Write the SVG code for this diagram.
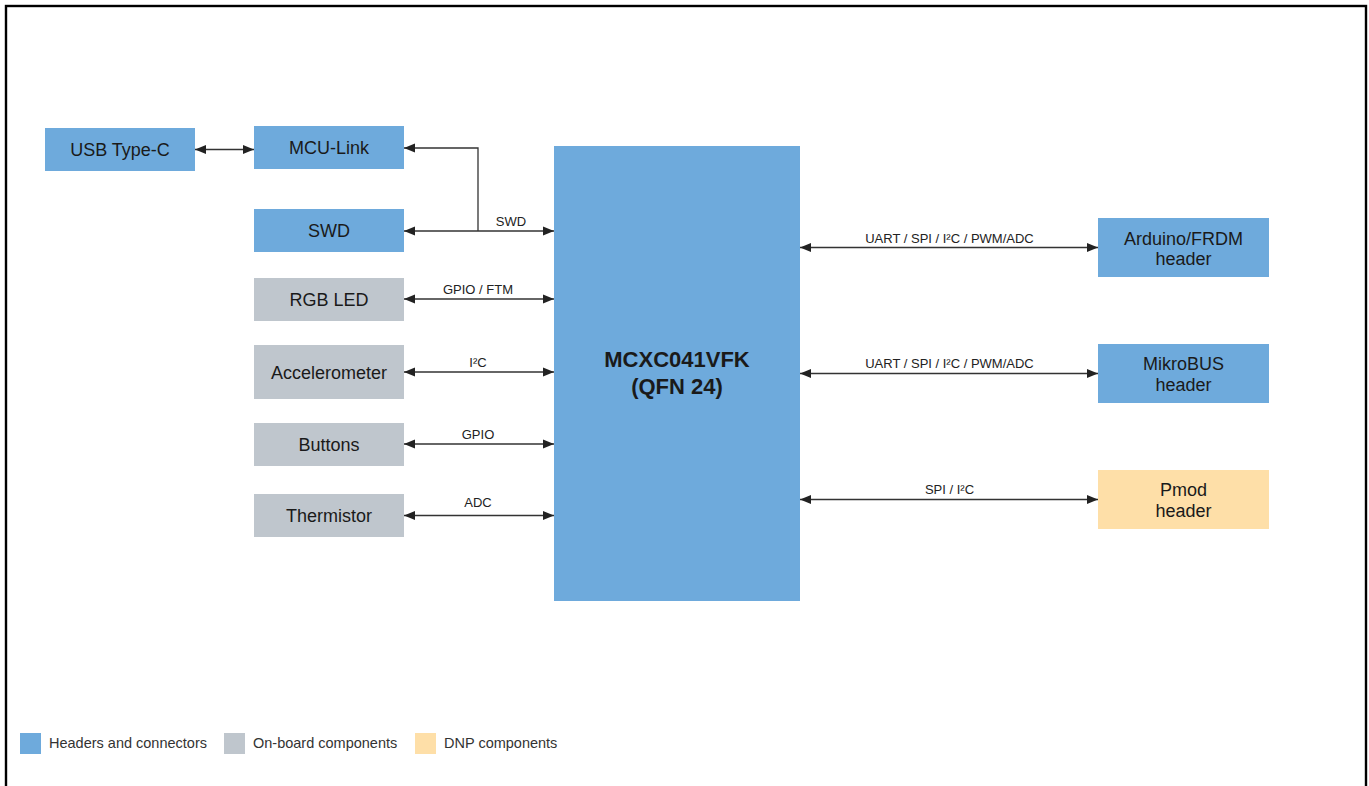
<svg xmlns="http://www.w3.org/2000/svg" width="1369" height="786" viewBox="0 0 1369 786">
<style>
  .blue { fill: #6EAADC; }
  .gray { fill: #BFC6CD; }
  .yel { fill: #FEDFA8; }
  .nt { font-family: "Liberation Sans", Arial, sans-serif; font-size: 18px; fill: #1a1a1a; text-anchor: middle; }
  .mt { font-family: "Liberation Sans", Arial, sans-serif; font-size: 22px; font-weight: bold; fill: #1a1a1a; text-anchor: middle; }
  .lt { font-family: "Liberation Sans", Arial, sans-serif; font-size: 13px; fill: #222; text-anchor: middle; }
  .gt { font-family: "Liberation Sans", Arial, sans-serif; font-size: 14.5px; fill: #333; }
  .ln { fill: none; stroke: #333; stroke-width: 1.3; }
</style>
<defs>
  <marker id="ah" markerUnits="userSpaceOnUse" markerWidth="12" markerHeight="10" refX="11" refY="5" orient="auto-start-reverse">
    <path d="M0,0.6 L11,5 L0,9.4 Z" fill="#222"/>
  </marker>
</defs>
<rect x="6" y="6" width="1360" height="790" fill="#fff" stroke="#000" stroke-width="2.4"/>

<g id="connectors">
  <line class="ln" x1="195" y1="149.5" x2="254" y2="149.5" marker-start="url(#ah)" marker-end="url(#ah)"/>
  <path class="ln" d="M478,231 V148 H404" marker-end="url(#ah)"/>
  <line class="ln" x1="404" y1="231" x2="554" y2="231" marker-start="url(#ah)" marker-end="url(#ah)"/>
  <text class="lt" x="511" y="226">SWD</text>
  <line class="ln" x1="404" y1="299" x2="554" y2="299" marker-start="url(#ah)" marker-end="url(#ah)"/>
  <text class="lt" x="478" y="294">GPIO / FTM</text>
  <line class="ln" x1="404" y1="372" x2="554" y2="372" marker-start="url(#ah)" marker-end="url(#ah)"/>
  <text class="lt" x="478" y="367">I²C</text>
  <line class="ln" x1="404" y1="444" x2="554" y2="444" marker-start="url(#ah)" marker-end="url(#ah)"/>
  <text class="lt" x="478" y="439">GPIO</text>
  <line class="ln" x1="404" y1="515.5" x2="554" y2="515.5" marker-start="url(#ah)" marker-end="url(#ah)"/>
  <text class="lt" x="478" y="507">ADC</text>
  <line class="ln" x1="800" y1="247.5" x2="1098" y2="247.5" marker-start="url(#ah)" marker-end="url(#ah)"/>
  <text class="lt" x="949.5" y="242.5">UART / SPI / I²C / PWM/ADC</text>
  <line class="ln" x1="800" y1="373.5" x2="1098" y2="373.5" marker-start="url(#ah)" marker-end="url(#ah)"/>
  <text class="lt" x="949.5" y="368">UART / SPI / I²C / PWM/ADC</text>
  <line class="ln" x1="800" y1="499.5" x2="1098" y2="499.5" marker-start="url(#ah)" marker-end="url(#ah)"/>
  <text class="lt" x="949.5" y="494">SPI / I²C</text>
</g>

<g id="usb"><rect class="blue" x="45" y="128" width="150" height="43"/><text class="nt" x="120" y="156">USB Type-C</text></g>
<g id="mculink"><rect class="blue" x="254" y="126" width="150" height="43"/><text class="nt" x="329" y="154">MCU-Link</text></g>
<g id="swd"><rect class="blue" x="254" y="209" width="150" height="43"/><text class="nt" x="329" y="237">SWD</text></g>
<g id="rgbled"><rect class="gray" x="254" y="278" width="150" height="43"/><text class="nt" x="329" y="306">RGB LED</text></g>
<g id="accel"><rect class="gray" x="254" y="345" width="150" height="54"/><text class="nt" x="329" y="378.5">Accelerometer</text></g>
<g id="buttons"><rect class="gray" x="254" y="423" width="150" height="43"/><text class="nt" x="329" y="451">Buttons</text></g>
<g id="thermistor"><rect class="gray" x="254" y="494" width="150" height="43"/><text class="nt" x="329" y="522">Thermistor</text></g>
<g id="mcu"><rect class="blue" x="554" y="146" width="246" height="455"/><text class="mt" x="677" y="367">MCXC041VFK</text><text class="mt" x="677" y="394">(QFN 24)</text></g>
<g id="arduino"><rect class="blue" x="1098" y="218" width="171" height="59"/><text class="nt" x="1183.5" y="244.5">Arduino/FRDM</text><text class="nt" x="1183.5" y="264.5">header</text></g>
<g id="mikrobus"><rect class="blue" x="1098" y="344" width="171" height="59"/><text class="nt" x="1183.5" y="370">MikroBUS</text><text class="nt" x="1183.5" y="390.5">header</text></g>
<g id="pmod"><rect class="yel" x="1098" y="470" width="171" height="59"/><text class="nt" x="1183.5" y="496">Pmod</text><text class="nt" x="1183.5" y="516.5">header</text></g>

<g id="legend">
  <rect class="blue" x="20" y="733" width="21" height="21"/><text class="gt" x="49" y="748">Headers and connectors</text>
  <rect class="gray" x="224" y="733" width="21" height="21"/><text class="gt" x="253" y="748">On-board components</text>
  <rect class="yel" x="415" y="733" width="21" height="21"/><text class="gt" x="444" y="748">DNP components</text>
</g>
</svg>
